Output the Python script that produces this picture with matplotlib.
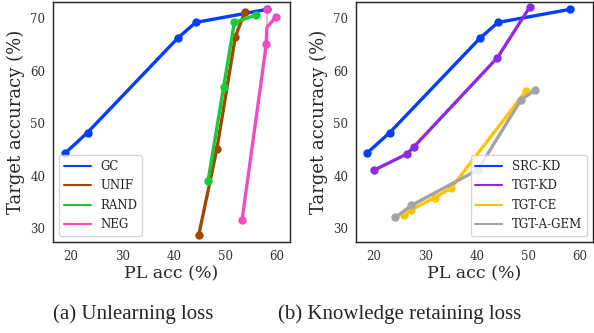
import matplotlib
matplotlib.use("Agg")
import matplotlib.pyplot as plt
from matplotlib.lines import Line2D
import seaborn as sns

sns.set_style("white")
plt.rcParams['font.family'] = ['DejaVu Serif']

# (a) unlearning loss
gc_x = [18.9, 23.2, 40.7, 44.2, 58.1]
gc_y = [44.3, 48.2, 66.2, 69.2, 71.7]
unif_x = [44.8, 48.3, 51.9, 53.7]
unif_y = [28.7, 45.0, 66.5, 71.1]
rand_x = [46.6, 49.6, 51.7, 55.9]
rand_y = [39.0, 56.8, 69.2, 70.6]
neg_x = [53.2, 57.9, 58.0, 59.8]
neg_y = [31.5, 65.0, 68.2, 70.3]
neg_extra_x = [58.0, 58.1]
neg_extra_y = [68.2, 71.7]

# (b) knowledge retaining loss
src_x = [18.7, 23.1, 40.6, 44.1, 58.1]
src_y = [44.3, 48.2, 66.2, 69.2, 71.7]
tkd_x = [20.0, 26.4, 27.7, 44.0, 50.3]
tkd_y = [41.0, 44.1, 45.4, 62.5, 72.2]
tce_x = [25.9, 27.3, 31.8, 35.0, 49.6]
tce_y = [32.4, 33.5, 35.8, 37.6, 56.2]
gem_x = [24.2, 27.3, 40.2, 48.6, 51.3]
gem_y = [32.0, 34.3, 41.1, 54.5, 56.3]

fig = plt.figure(figsize=(5.94, 3.33), dpi=100)
ax1 = fig.add_axes([0.0892, 0.273, 0.399, 0.721])
ax2 = fig.add_axes([0.599, 0.273, 0.399, 0.721])

lw, ms = 2.4, 5
ax1.plot(gc_x, gc_y, '-o', color='#023eff', lw=lw, ms=ms, label='GC')
ax1.plot(unif_x, unif_y, '-o', color='#9f4800', lw=lw, ms=ms, label='UNIF')
ax1.plot(rand_x, rand_y, '-o', color='#1ac938', lw=lw, ms=ms, label='RAND')
ax1.plot(neg_x, neg_y, '-o', color='#f14cc1', lw=lw, ms=ms, markevery=[0, 1, 3], label='NEG')
ax1.plot(neg_extra_x, neg_extra_y, '-o', color='#f14cc1', lw=0.6, ms=ms, markevery=[1])

ax2.plot(src_x, src_y, '-o', color='#023eff', lw=lw, ms=ms, label='SRC-KD')
ax2.plot(tkd_x, tkd_y, '-o', color='#8b2be2', lw=lw, ms=ms, label='TGT-KD')
ax2.plot(tce_x, tce_y, '-o', color='#ffc400', lw=lw, ms=ms, label='TGT-CE')
ax2.plot(gem_x, gem_y, '-o', color='#a3a3a3', lw=lw, ms=ms, label='TGT-A-GEM')

for ax in (ax1, ax2):
    ax.set_xlim(16.5, 62.5)
    ax.set_ylim(27.3, 73.1)
    ax.set_xticks([20, 30, 40, 50, 60])
    ax.set_yticks([30, 40, 50, 60, 70])
    ax.tick_params(labelsize=8.5, colors='#333333', pad=2)
    ax.set_xlabel('PL acc (%)', fontsize=12.5, labelpad=2)
    ax.set_ylabel('Target accuracy (%)', fontsize=13, labelpad=4)
    for s in ax.spines.values():
        s.set_color('#222222')
        s.set_linewidth(1.0)
    handles = [Line2D([], [], color=l.get_color(), lw=1.5) for l in ax.get_lines() if not l.get_label().startswith('_')]
    labels = [l.get_label() for l in ax.get_lines() if not l.get_label().startswith('_')]
    ax.legend(handles, labels, loc='lower left' if ax is ax1 else 'lower right',
              fontsize=8.5, handlelength=2.3, labelspacing=0.55, borderaxespad=0.5)

fig.text(0.224, 0.057, '(a) Unlearning loss', family='Liberation Serif', fontsize=15, ha='center', va='center')
fig.text(0.673, 0.057, '(b) Knowledge retaining loss', family='Liberation Serif', fontsize=15, ha='center', va='center')

fig.savefig('out.png', dpi=100)
